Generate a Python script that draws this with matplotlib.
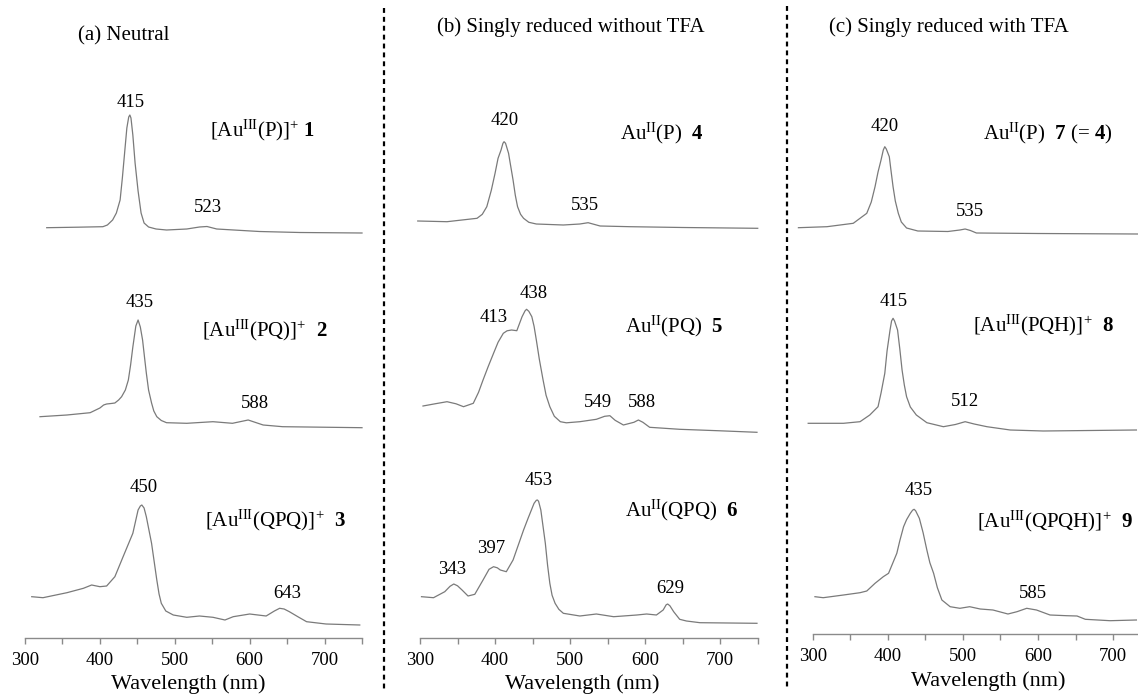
import numpy as np
import matplotlib
matplotlib.use('Agg')
import matplotlib.pyplot as plt
from matplotlib.lines import Line2D

plt.rcParams['font.family'] = 'Liberation Serif'
plt.rcParams['mathtext.fontset'] = 'custom'
plt.rcParams['mathtext.rm'] = 'Liberation Serif'
plt.rcParams['mathtext.it'] = 'Liberation Serif:italic'
plt.rcParams['mathtext.bf'] = 'Liberation Serif:bold'

# ---- spectra (wavelength nm, relative absorbance a.u.) ----
# panel (a) neutral
wl_1 = [329, 370, 404, 410, 417, 422, 427, 430, 433, 436, 438.5, 440, 441.5, 444, 447, 451,
        455, 459, 465, 475, 489, 516, 533, 543, 556, 613, 667, 750]
ab_1 = [5.3, 5.8, 6.3, 8, 13, 20, 33, 55, 80, 105, 116, 118, 115, 98, 70, 42,
        20, 10, 6, 4, 3, 4, 6, 6.5, 4, 1.5, 0.5, 0]

wl_2 = [320, 356, 387, 400, 405, 409, 415, 420, 425, 429, 434, 438, 441, 444, 448, 451,
        454, 457, 460, 462, 465, 469, 472, 476, 482, 489, 516, 551, 577, 598, 618, 644, 750]
ab_2 = [11.3, 13, 15.3, 20, 23, 24, 24.5, 25, 28, 31.3, 38, 48, 63, 81, 102, 108,
        101, 88, 68, 55, 38, 25, 17, 11.3, 7.5, 5.3, 4.7, 6.3, 4.7, 8, 3, 1.3, 0.3]

wl_3 = [309, 324, 356, 378, 389, 400, 409, 420, 431, 444, 451, 454, 456, 459, 462, 469,
        476, 479, 482, 488, 498, 516, 533, 551, 567, 578, 600, 622, 633, 640, 646, 653,
        665, 676, 702, 747]
ab_3 = [28.3, 27.3, 32.3, 36.7, 40, 38.3, 39, 48.3, 68.3, 91.7, 115, 119, 120, 117, 108.3, 81.7,
        45, 31, 21.7, 14, 10, 7.7, 9, 7.7, 5, 8.3, 11, 9, 14, 16.7, 16, 13.3,
        8, 3.3, 1, 0]

# panel (b) singly reduced without TFA
wl_4 = [297, 336, 376, 383, 389, 395, 400, 404, 408, 410.5, 412, 414, 418, 420, 424, 427,
        430, 434, 438, 445, 455, 491, 513, 524, 540, 580, 650, 750]
ab_4 = [7.3, 6.6, 10, 14, 21.6, 38, 55, 70, 78.3, 85, 86.6, 85, 75, 66, 48.3, 33,
        21.6, 14, 10, 6, 4.3, 3.3, 4.3, 5.6, 2.3, 1.6, 0.8, 0]

wl_5 = [304, 320, 336, 348, 358, 371, 378, 384, 391, 398, 404, 411, 416, 422, 429, 436,
        440, 442, 445, 449, 452, 455, 459, 464, 468, 473, 479, 487, 495, 513, 535, 546,
        553, 560, 571, 585, 591, 597, 606, 646, 700, 749]
ab_5 = [26.3, 28.5, 30.6, 28.5, 25.6, 29, 40, 52.3, 66, 79, 90, 99, 101.5, 102.3, 101.6, 115.6,
        121.5, 123, 121, 115.6, 106, 92.3, 73, 52.3, 37, 25.6, 16, 10.6, 9.5, 10.6, 13, 16,
        16.6, 12, 7.3, 10, 12.3, 10, 5, 3, 1.5, 0]

wl_6 = [302, 318, 333, 340, 345, 350, 356, 364, 373, 384, 392, 398, 403, 407, 415, 424,
        438, 444, 452, 455, 456.5, 458, 461, 467, 470, 473, 476, 480, 485, 491, 513, 535,
        558, 589, 602, 615, 624, 628, 630, 633, 638, 646, 655, 673, 749]
ab_6 = [26.6, 25.6, 31.6, 37, 39.3, 37.5, 33.3, 27.3, 29, 43.3, 54, 56.6, 55.5, 53.3, 51.6, 63.3,
        93.3, 105, 120, 123, 123.3, 122, 113.3, 80, 58, 40, 28, 20, 14, 10, 7.3, 9.3,
        6.6, 8.3, 9.3, 8.3, 13.3, 18.5, 19.3, 17.5, 11.6, 4, 2.3, 0.6, 0]

# panel (c) singly reduced with TFA
wl_7 = [281, 319, 354, 372, 378, 383, 387, 391, 394, 396, 398, 402, 404, 407, 410, 414,
        418, 425, 440, 480, 496, 503, 510, 518, 600, 733]
ab_7 = [6.3, 7.3, 10.7, 20.7, 32, 47.3, 62, 74, 84, 87.3, 85, 77.3, 65, 47.3, 33, 20.7,
        12, 6, 3, 2.5, 4, 5, 3.5, 1, 0.5, 0]

wl_8 = [294, 341, 363, 376, 387, 391, 396, 399, 403, 405, 407, 409, 413, 416, 419, 422,
        425, 430, 438, 452, 474, 490, 503, 515, 532, 563, 607, 731]
ab_8 = [7.7, 7.7, 9.3, 16, 24.3, 38, 57.7, 80, 101, 110, 112.7, 110, 101, 82, 61, 46,
        34.3, 24, 16, 8.3, 4.3, 6.5, 9.3, 7, 4.3, 1, 0, 1]

wl_9 = [303, 314, 341, 363, 372, 383, 394, 401, 412, 416, 421, 425, 430, 433, 435, 437,
        442, 447, 452, 456, 461, 466, 472, 483, 496, 509, 523, 540, 560, 572, 585, 598,
        616, 638, 652, 663, 696, 731]
ab_9 = [24, 23, 25.7, 28, 29.7, 37.4, 44, 47.4, 67.4, 80, 94, 101, 107.4, 110.5, 111.4, 110,
        102.4, 88, 70.7, 58, 47.4, 33, 20.7, 14, 12.4, 14, 11.7, 10.7, 6.7, 9, 12.4, 10.7,
        5.7, 5, 4.7, 1.4, 0, 0.7]

panel_titles = ['(a) Neutral', '(b) Singly reduced without TFA', '(c) Singly reduced with TFA']

compound_labels = [
    [r'[Au$^{\mathrm{III}}$(P)]$^{+}$ $\mathbf{1}$',
     r'[Au$^{\mathrm{III}}$(PQ)]$^{+}$  $\mathbf{2}$',
     r'[Au$^{\mathrm{III}}$(QPQ)]$^{+}$  $\mathbf{3}$'],
    [r'Au$^{\mathrm{II}}$(P)  $\mathbf{4}$',
     r'Au$^{\mathrm{II}}$(PQ)  $\mathbf{5}$',
     r'Au$^{\mathrm{II}}$(QPQ)  $\mathbf{6}$'],
    [r'Au$^{\mathrm{II}}$(P)  $\mathbf{7}$ (= $\mathbf{4}$)',
     r'[Au$^{\mathrm{III}}$(PQH)]$^{+}$  $\mathbf{8}$',
     r'[Au$^{\mathrm{III}}$(QPQH)]$^{+}$  $\mathbf{9}$'],
]

peak_labels = [
    ['415', '523', '435', '588', '450', '643'],
    ['420', '535', '413', '438', '549', '588', '343', '397', '453', '629'],
    ['420', '535', '415', '512', '435', '585'],
]

spectra = [
    [(wl_1, ab_1), (wl_2, ab_2), (wl_3, ab_3)],
    [(wl_4, ab_4), (wl_5, ab_5), (wl_6, ab_6)],
    [(wl_7, ab_7), (wl_8, ab_8), (wl_9, ab_9)],
]

# ---- layout ----
W, H = 1138, 694
fig = plt.figure(figsize=(W / 100, H / 100), dpi=100)

xmin, xmax = 275, 760
# pixel position of 300 nm and px per nm for each panel
x300_px = [25, 420, 812.7]
px_per_nm = [0.7489, 0.7505, 0.751]
axis_y = [56, 55.7, 59.7]          # y (from bottom, px) of the wavelength axis
offsets = [[461, 266, 69], [465.7, 261.7, 70.7], [460, 263, 73.3]]

title_pos = [(371, 658), (501, 667), (481.5, 667)]
title_ha = ['left', 'center', 'center']
compound_pos = [
    [(547, 564), (536, 364), (540, 174)],
    [(566.5, 561), (573.2, 367.3), (573.2, 184)],
    [(526.8, 561), (513.3, 369), (518.4, 172.3)],
]
peak_pos = [
    [(441.5, 592), (544, 487), (453.6, 391.3), (607, 291), (459, 206), (650, 101)],
    [(413.3, 574), (519.9, 489), (397.7, 376.7), (451, 400.7), (537.6, 291.3),
     (595.4, 291.3), (342.2, 124.7), (394.6, 145.7), (457.6, 213.3), (633.1, 105.7)],
    [(396.3, 567.3), (509.5, 482.3), (407.3, 392.3), (502.8, 292.3), (440.6, 203.3),
     (593, 100.7)],
]
xlabel_pos = [(517.6, 10), (516.5, 10), (533.8, 13)]

line_col = '#7a7a7a'

for i in range(3):
    left_px = x300_px[i] - (300 - xmin) * px_per_nm[i]
    width_px = (xmax - xmin) * px_per_nm[i]
    ax = fig.add_axes([left_px / W, 0, width_px / W, 1])
    ax.set_xlim(xmin, xmax)
    ax.set_ylim(0, H)
    ax.patch.set_visible(False)
    for s in ['top', 'right', 'left']:
        ax.spines[s].set_visible(False)
    ax.spines['bottom'].set_position(('data', axis_y[i]))
    ax.spines['bottom'].set_bounds(300, 750)
    ax.spines['bottom'].set_color('#8a8a8a')
    ax.spines['bottom'].set_linewidth(1.0)
    ax.set_yticks([])
    ticks = np.arange(300, 751, 50)
    ax.set_xticks(ticks)
    ax.set_xticklabels([str(t) if t % 100 == 0 else '' for t in ticks])
    ax.tick_params(axis='x', direction='out', length=4.5, width=1.0, color='#8a8a8a',
                   labelsize=13.5, pad=5.5)

    for (wl, ab), off in zip(spectra[i], offsets[i]):
        ax.plot(wl, np.array(ab) + off, color=line_col, lw=0.9, clip_on=False)

    ax.text(title_pos[i][0], title_pos[i][1], panel_titles[i], fontsize=15,
            ha=title_ha[i], va='center')
    for lab, (x, y) in zip(compound_labels[i], compound_pos[i]):
        ax.text(x, y, lab, fontsize=15, ha='left', va='center')
    for lab, (x, y) in zip(peak_labels[i], peak_pos[i]):
        ax.text(x, y, lab, fontsize=13.5, ha='center', va='center')
    ax.text(xlabel_pos[i][0], xlabel_pos[i][1], 'Wavelength (nm)', fontsize=16,
            ha='center', va='center')

# dashed separators
for xp, y0 in [(384, 8), (787, 6)]:
    fig.add_artist(Line2D([xp / W, xp / W], [1 - y0 / H, 1 - 690 / H],
                          transform=fig.transFigure, color='black', lw=1.6,
                          linestyle=(0, (2.2, 1.8))))

fig.savefig('out.png', dpi=100)
